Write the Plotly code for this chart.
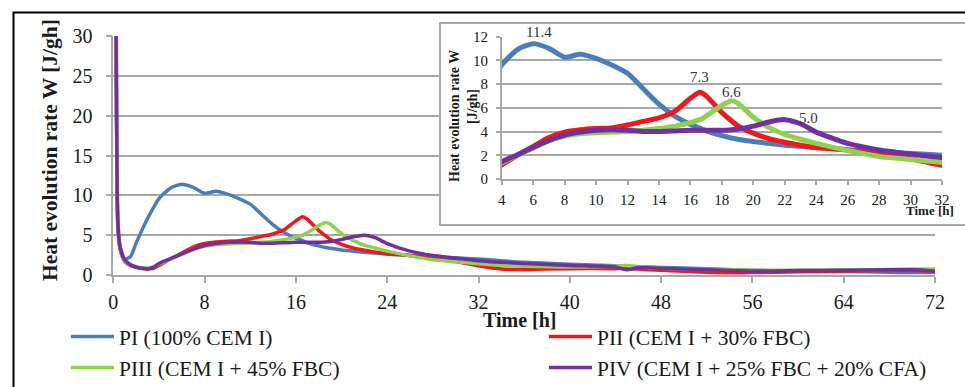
import plotly.graph_objects as go

W, H = 965, 387

# ---------------- data ----------------
time_h = [0.25, 0.4, 0.6, 1.0, 1.5, 2, 2.5, 3, 3.5, 4, 5, 6, 7, 8, 9, 10, 11, 12, 13, 14,
          15, 16, 16.6, 17, 18, 18.6, 19, 20, 21, 22, 23, 24, 26, 28, 30, 32, 34, 36, 40, 44,
          45, 46, 48, 52, 56, 60, 64, 68, 70, 72]

pi_vals = [32, 7, 3.6, 2.0, 2.3, 4.0, 5.6, 7.1, 8.4, 9.6, 10.9, 11.4, 11.0, 10.25, 10.5, 10.15, 9.6, 8.9, 7.6, 6.3,
           5.3, 4.6, 4.3, 4.05, 3.65, 3.45, 3.35, 3.15, 3.0, 2.85, 2.75, 2.65, 2.45, 2.3, 2.15, 2.0, 1.8, 1.6, 1.35, 1.15,
           1.1, 1.05, 0.95, 0.8, 0.6, 0.5, 0.45, 0.35, 0.3, 0.3]

pii_vals = [32, 6, 3.2, 1.7, 1.2, 0.95, 0.8, 0.75, 0.85, 1.2, 2.0, 2.75, 3.5, 3.95, 4.15, 4.25, 4.3, 4.55, 4.85, 5.15,
            5.7, 6.8, 7.3, 7.0, 5.6, 4.9, 4.5, 3.85, 3.4, 3.1, 2.85, 2.65, 2.45, 2.05, 1.7, 1.15, 0.75, 0.7, 0.8, 0.8,
            0.8, 0.75, 0.6, 0.35, 0.3, 0.4, 0.5, 0.55, 0.55, 0.5]

piii_vals = [32, 6, 3.3, 1.8, 1.3, 1.05, 0.9, 0.85, 1.0, 1.35, 2.0, 2.6, 3.2, 3.6, 3.8, 3.9, 3.95, 4.0, 4.1, 4.25,
             4.45, 4.75, 5.0, 5.3, 6.2, 6.6, 6.4, 5.2, 4.35, 3.75, 3.35, 3.0, 2.4, 1.9, 1.65, 1.4, 1.2, 1.1, 1.0, 1.1,
             1.2, 1.05, 0.85, 0.7, 0.6, 0.6, 0.65, 0.7, 0.75, 0.75]

piv_vals = [32, 6.5, 3.4, 1.9, 1.3, 1.0, 0.85, 0.8, 0.95, 1.45, 2.05, 2.65, 3.25, 3.7, 3.95, 4.1, 4.15, 4.1, 4.0, 4.0,
            4.05, 4.1, 4.1, 4.1, 4.1, 4.15, 4.2, 4.45, 4.8, 5.0, 4.65, 3.95, 3.0, 2.45, 2.1, 1.8, 1.6, 1.45, 1.2, 1.0,
            0.65, 0.95, 0.85, 0.65, 0.5, 0.55, 0.6, 0.65, 0.65, 0.5]

series_names = ["PI (100% CEM I)", "PII (CEM I + 30% FBC)",
                "PIII (CEM I + 45% FBC)", "PIV (CEM I + 25% FBC + 20% CFA)"]
series_vals = [pi_vals, pii_vals, piii_vals, piv_vals]
series_colors = ["#4a7ebb", "#f01818", "#92d050", "#7030a0"]

main_xticks = [0, 8, 16, 24, 32, 40, 48, 56, 64, 72]
main_yticks = [0, 5, 10, 15, 20, 25, 30]
inset_xticks = list(range(4, 33, 2))
inset_yticks = [0, 2, 4, 6, 8, 10, 12]

# peak values labelled in the inset
peak_t = [6.0, 16.6, 18.6, 22.0]
peak_v = [11.4, 7.3, 6.6, 5.0]
peak_offsets = [(6, 12), (0, 15), (0, 9), (24, 2)]   # label offsets in px (style)

# ---------------- layout helpers ----------------
def px_x(p):
    return p / W

def px_y(p):
    return 1 - p / H

FONT = "Liberation Serif"
GRID = "#a8a8a8"
TXT = "#1a1a1a"

fig = go.Figure()

# main traces
for name, vals, col in zip(series_names, series_vals, series_colors):
    fig.add_trace(go.Scatter(x=time_h, y=vals, name=name, mode="lines",
                             line=dict(color=col, width=3.5, shape="spline", smoothing=0.6),
                             xaxis="x", yaxis="y", showlegend=True))

# cover subplot (inset frame)
fig.add_trace(go.Scatter(x=[], y=[], xaxis="x2", yaxis="y2", showlegend=False))

# inset traces
for name, vals, col in zip(series_names, series_vals, series_colors):
    fig.add_trace(go.Scatter(x=time_h, y=vals, name=name, mode="lines",
                             line=dict(color=col, width=5, shape="spline", smoothing=0.6),
                             xaxis="x3", yaxis="y3", showlegend=False))

axis_common = dict(showline=True, linecolor=GRID, linewidth=1.5, zeroline=False,
                   tickcolor=GRID, tickwidth=1.5, ticks="outside")

fig.update_layout(
    width=W, height=H,
    margin=dict(l=0, r=0, t=0, b=0, autoexpand=False),
    paper_bgcolor="white", plot_bgcolor="white",
    font=dict(family=FONT, color=TXT),
    xaxis=dict(domain=[px_x(113.3), px_x(935)], range=[0, 72], tickvals=main_xticks,
               showgrid=False, ticklen=6, tickfont=dict(size=20, family=FONT, color=TXT),
               ticklabelstandoff=2, **axis_common),
    yaxis=dict(domain=[px_y(275), px_y(36)], range=[0, 30], tickvals=main_yticks,
               showgrid=True, gridcolor=GRID, gridwidth=1.5, ticklen=6,
               tickfont=dict(size=20, family=FONT, color=TXT), ticklabelstandoff=9,
               **axis_common),
    xaxis2=dict(domain=[px_x(441), 1.0], range=[0, 1], showgrid=False, zeroline=False,
                showticklabels=False, ticks="", showline=True, mirror=True,
                linecolor=GRID, linewidth=1.5, anchor="y2", fixedrange=True),
    yaxis2=dict(domain=[px_y(223.5), px_y(23.5)], range=[0, 1], showgrid=False, zeroline=False,
                showticklabels=False, ticks="", showline=True, mirror=False,
                linecolor=GRID, linewidth=1.5, anchor="x2", fixedrange=True),
    xaxis3=dict(domain=[px_x(501.7), px_x(942)], range=[4, 32], tickvals=inset_xticks,
                showgrid=False, ticklen=4, anchor="y3",
                tickfont=dict(size=15, family=FONT, color=TXT), ticklabelstandoff=2,
                **axis_common),
    yaxis3=dict(domain=[px_y(179), px_y(36.5)], range=[0, 12], tickvals=inset_yticks,
                showgrid=True, gridcolor=GRID, gridwidth=1.5, ticklen=4, anchor="x3",
                tickfont=dict(size=15, family=FONT, color=TXT), ticklabelstandoff=5,
                **axis_common),
    legend=dict(orientation="h", x=px_x(66), xanchor="left", y=px_y(316), yanchor="top",
                font=dict(size=21.5, family=FONT, color=TXT), itemwidth=43,
                entrywidth=420, entrywidthmode="pixels", bgcolor="rgba(0,0,0,0)",
                tracegroupgap=0),
    showlegend=True,
)

def paper_ann(text, x, y, size, angle=0):
    return dict(text=text, x=px_x(x), y=px_y(y), xref="paper", yref="paper",
                xanchor="center", yanchor="middle", textangle=angle, showarrow=False,
                font=dict(size=size, family=FONT, color=TXT))

annotations = [
    paper_ann("<b>Heat evolution rate W [J/gh]</b>", 50, 150, 21.5, -90),
    paper_ann("<b>Time [h]</b>", 520, 320, 20),
    paper_ann("<b>Heat evolution rate W</b>", 454, 116, 14, -90),
    paper_ann("<b>[J/gh]</b>", 473, 107, 14, -90),
    paper_ann("<b>Time [h]</b>", 930, 210, 13),
]
for t, v, (dx, dy) in zip(peak_t, peak_v, peak_offsets):
    annotations.append(dict(text=f"{v:.1f}", x=t, y=v, xref="x3", yref="y3", showarrow=False,
                            xanchor="center", yanchor="middle", xshift=dx, yshift=dy,
                            font=dict(size=15, family=FONT, color="#333333")))
fig.update_layout(annotations=annotations)

# outer black frame (right & bottom edges lie outside the picture)
fig.add_shape(type="rect", xref="paper", yref="paper",
              x0=px_x(13.5), x1=1.2, y0=-0.2, y1=px_y(12.5),
              line=dict(color="black", width=2), fillcolor="rgba(0,0,0,0)", layer="above")

fig.write_html("out.html")
